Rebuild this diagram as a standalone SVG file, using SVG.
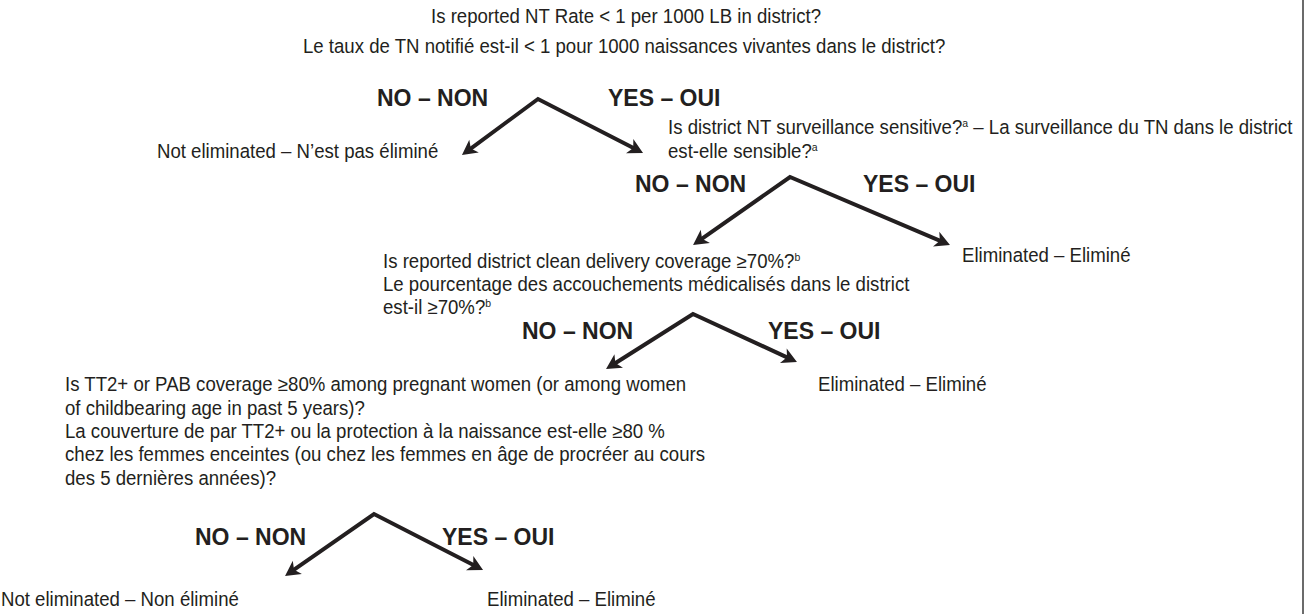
<svg xmlns="http://www.w3.org/2000/svg" width="1306" height="614" viewBox="0 0 1306 614">
<style>
.t{font-family:"Liberation Sans",Arial,sans-serif;font-size:19.5px;fill:#231f20;transform-box:fill-box;transform-origin:0% 50%;transform:scaleX(0.955)}
.b{font-family:"Liberation Sans",Arial,sans-serif;font-size:23px;font-weight:bold;fill:#231f20}
.sup{font-size:11px}
.c{fill:none;stroke:#231f20;stroke-width:4;stroke-linejoin:miter;marker-start:url(#ah);marker-end:url(#ah)}
</style>
<defs>
<marker id="ah" markerUnits="userSpaceOnUse" viewBox="-8 -9 18 18" refX="0" refY="0" markerWidth="18" markerHeight="18" orient="auto-start-reverse" overflow="visible">
<path d="M8,0 L-7,-8 L-3,0 L-7,8 Z" fill="#231f20"/>
</marker>
</defs>
<rect width="1306" height="614" fill="#fff"/>
<line x1="1303" y1="0" x2="1303" y2="614" stroke="#3a3a3a" stroke-width="1.5"/>
<g id="q1">
<text class="t" x="431" y="23">Is reported NT Rate &lt; 1 per 1000 LB in district?</text>
<text class="t" x="303" y="53">Le taux de TN notifié est-il &lt; 1 pour 1000 naissances vivantes dans le district?</text>
</g>
<g id="q1-labels">
<text class="b" x="377" y="106">NO – NON</text>
<text class="b" x="608" y="106">YES – OUI</text>
</g>
<g id="r1-no">
<text class="t" x="157" y="158">Not eliminated – N’est pas éliminé</text>
</g>
<g id="q2">
<text class="t" x="668" y="134">Is district NT surveillance sensitive?<tspan class="sup" dy="-7">a</tspan><tspan dy="7"> – La surveillance du TN dans le district</tspan></text>
<text class="t" x="668" y="158">est-elle sensible?<tspan class="sup" dy="-7">a</tspan></text>
</g>
<g id="q2-labels">
<text class="b" x="635" y="192">NO – NON</text>
<text class="b" x="863" y="192">YES – OUI</text>
</g>
<g id="r2-yes">
<text class="t" x="962" y="262">Eliminated – Eliminé</text>
</g>
<g id="q3">
<text class="t" x="383" y="268">Is reported district clean delivery coverage ≥70%?<tspan class="sup" dy="-7">b</tspan></text>
<text class="t" x="383" y="291">Le pourcentage des accouchements médicalisés dans le district</text>
<text class="t" x="383" y="314">est-il ≥70%?<tspan class="sup" dy="-7">b</tspan></text>
</g>
<g id="q3-labels">
<text class="b" x="522" y="339">NO – NON</text>
<text class="b" x="768" y="339">YES – OUI</text>
</g>
<g id="r3-yes">
<text class="t" x="818" y="391">Eliminated – Eliminé</text>
</g>
<g id="q4">
<text class="t" x="65" y="391">Is TT2+ or PAB coverage ≥80% among pregnant women (or among women</text>
<text class="t" x="65" y="415">of childbearing age in past 5 years)?</text>
<text class="t" x="65" y="438">La couverture de par TT2+ ou la protection à la naissance est-elle ≥80 %</text>
<text class="t" x="65" y="461">chez les femmes enceintes (ou chez les femmes en âge de procréer au cours</text>
<text class="t" x="65" y="485">des 5 dernières années)?</text>
</g>
<g id="q4-labels">
<text class="b" x="195" y="545">NO – NON</text>
<text class="b" x="442" y="545">YES – OUI</text>
</g>
<g id="r4-no">
<text class="t" x="1" y="606">Not eliminated – Non éliminé</text>
</g>
<g id="r4-yes">
<text class="t" x="487" y="606">Eliminated – Eliminé</text>
</g>
<g id="connectors">
<path class="c" d="M468.4,150.3 L538,99 L635.9,149.3"/>
<path class="c" d="M699.6,240.4 L790,177 L942.6,241.9"/>
<path class="c" d="M612.8,364.7 L693,314 L789.7,358.6"/>
<path class="c" d="M291.6,571.4 L374,514 L475.9,566.3"/>
</g>
</svg>
